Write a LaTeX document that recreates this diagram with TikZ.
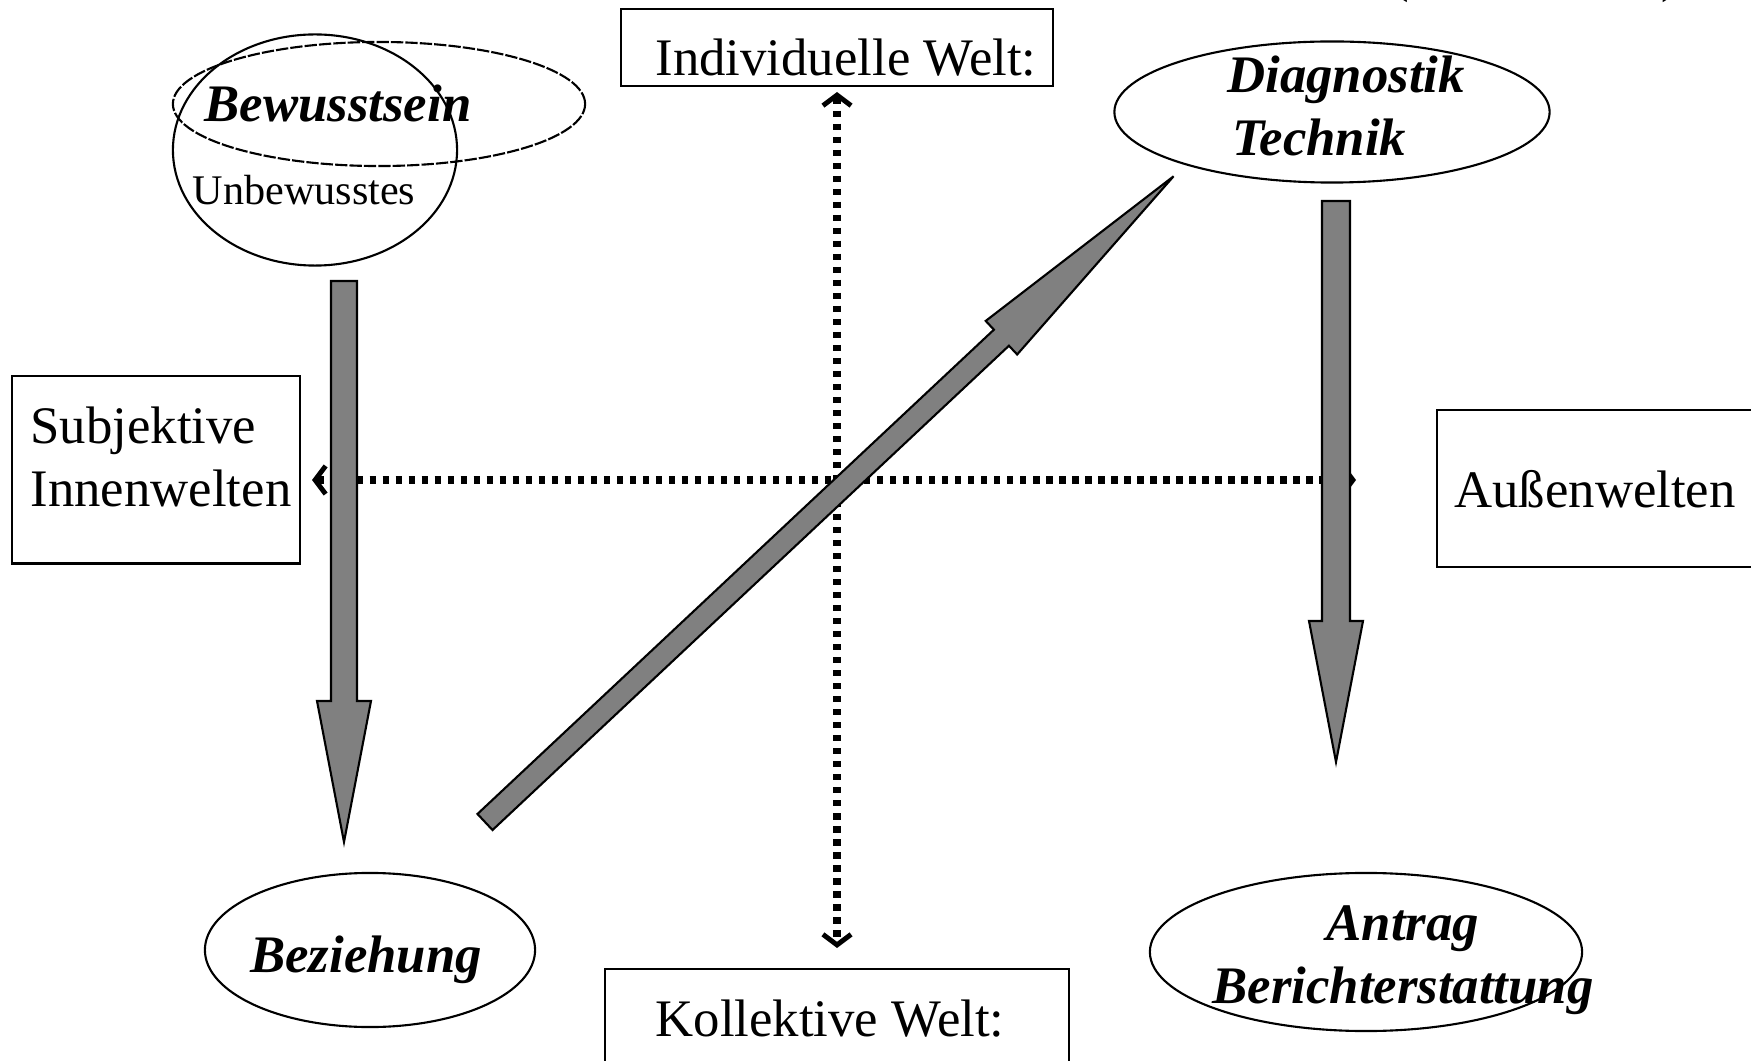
\documentclass[tikz,border=0pt]{standalone}
\usepackage{fontspec}
\setmainfont{Liberation Serif}
\usetikzlibrary{arrows.meta,shapes.geometric}
\tikzset{
	kasten/.style={draw,rectangle,line width=0.6pt,inner sep=0pt},
	oval/.style={draw,ellipse,line width=0.6pt,inner sep=0pt},
	schrift/.style={font=\fontsize{15}{18}\selectfont,inner sep=0pt},
	fett/.style={font=\fontsize{15}{18}\selectfont\bfseries\itshape,inner sep=0pt},
	achse/.style={line width=2.5pt,dash pattern=on 1.8pt off 1.9pt,
		{Straight Barb[length=3pt,width=8pt,line width=1.4pt]}-{Straight Barb[length=3pt,width=8pt,line width=1.4pt]}},
	blockpfeil/.style={draw,fill=gray,line width=0.6pt,line join=miter}
}
% block arrow: tail x, tail y, angle, length, shaft half width, head half width, head length
\newcommand{\Pfeil}[7]{
	\begin{scope}[shift={(#1,#2)},rotate=#3]
		\draw[blockpfeil](0,-#5)--({#4-#7},-#5)--({#4-#7},-#6)--(#4,0)--({#4-#7},#6)--({#4-#7},#5)--(0,#5)--cycle;
	\end{scope}
}
\begin{document}
\begin{tikzpicture}[x=0.01cm,y=-0.01cm]
\useasboundingbox (0,0) rectangle (1751,1061);
%axes
\coordinate (oben) at (837,92);
\coordinate (unten) at (837,948);
\coordinate (links) at (312,480);
\coordinate (rechts) at (1356,480);
\draw[achse](oben)--(unten);
\draw[achse](links)--(rechts);
%block arrows
\Pfeil{344}{281}{-90}{561}{13}{27}{141}
\Pfeil{1336}{201}{-90}{561}{14}{27}{141}
\Pfeil{485}{822}{43.16}{944}{11}{23}{236}
%boxes
\node[kasten,minimum width=4.32cm,minimum height=0.77cm](individuell) at (837,47.5){};
\node[schrift,anchor=base](individuelltext) at (846,76){Individuelle Welt:};
\node[kasten,minimum width=4.64cm,minimum height=1.2cm](kollektiv) at (837,1029){};
\node[schrift,anchor=base](kollektivtext) at (830,1036){Kollektive Welt:};
\node[kasten,minimum width=2.88cm,minimum height=1.87cm](subjektiv) at (156,470){};
\node[schrift,align=left](subjektivtext) at (161,457){Subjektive\\Innenwelten};
\node[kasten,minimum width=3.23cm,minimum height=1.57cm](aussen) at (1598.5,488.5){};
\node[schrift,anchor=base](aussentext) at (1595,508){Außenwelten};
%Bewusstsein
\node[oval,minimum width=2.84cm,minimum height=2.31cm](ich) at (315,150){};
\node[oval,dash pattern=on 3.5pt off 0.6pt,minimum width=4.12cm,minimum height=1.24cm](bewusst) at (379,104){};
\node[fett,anchor=base](bewusstsein) at (338,122){Bewusstsein};
\node[font=\fontsize{12}{14}\selectfont,inner sep=0pt,anchor=base](unbewusst) at (304,205){Unbewusstes};
%ovals
\node[oval,minimum width=4.35cm,minimum height=1.41cm](diagnostik) at (1332,112){};
\node[fett,align=left](diagnostiktext) at (1346,106){Diagnostik\\\hspace{0.05cm}Technik};
\node[oval,minimum width=3.30cm,minimum height=1.54cm](beziehung) at (370,950){};
\node[fett,anchor=base](beziehungtext) at (366,972){Beziehung};
\node[oval,minimum width=4.32cm,minimum height=1.58cm](antrag) at (1366,952){};
\node[fett,align=center](antragtext) at (1403,960){Antrag\\Berichterstattung};
%cut off at the top
\node[schrift,anchor=base](klammerauf) at (1400,-8){(};
\node[schrift,anchor=base](klammerzu) at (1670,-8){)};
\end{tikzpicture}
\end{document}
